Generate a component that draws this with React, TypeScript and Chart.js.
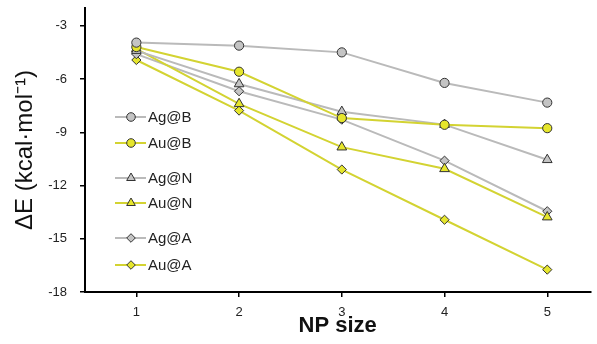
import React, { useEffect, useRef } from "react";
import { Chart, registerables } from "chart.js";

Chart.register(...registerables);

const npSizes = [1, 2, 3, 4, 5];
const agB = [-3.95, -4.12, -4.5, -6.22, -7.33];
const auB = [-4.2, -5.59, -8.2, -8.58, -8.77];
const agN = [-4.4, -6.28, -7.84, -8.57, -10.55];
const auN = [-4.3, -7.4, -9.84, -11.06, -13.78];
const agA = [-4.6, -6.69, -8.29, -10.6, -13.45];
const auA = [-4.93, -7.78, -11.1, -13.93, -16.74];
const yTickValues = [-3, -6, -9, -12, -15, -18];
const seriesNames = ["Ag@B", "Au@B", "Ag@N", "Au@N", "Ag@A", "Au@A"];

const GRAY_LINE = "#bababa";
const YEL_LINE = "#d3d332";
const GRAY_FILL = "#c4c4c4";
const YEL_FILL = "#e6e62c";
const EDGE = "#333333";

type Style = "circle" | "triangle" | "diamond";

function drawMarker(ctx: CanvasRenderingContext2D, style: Style, x: number, y: number, r: number, fill: string) {
  ctx.save();
  ctx.beginPath();
  if (style === "circle") {
    ctx.arc(x, y, r, 0, Math.PI * 2);
  } else if (style === "triangle") {
    let rad = 0;
    ctx.moveTo(x + Math.sin(rad) * r, y - Math.cos(rad) * r);
    rad += (2 * Math.PI) / 3;
    ctx.lineTo(x + Math.sin(rad) * r, y - Math.cos(rad) * r);
    rad += (2 * Math.PI) / 3;
    ctx.lineTo(x + Math.sin(rad) * r, y - Math.cos(rad) * r);
    ctx.closePath();
  } else {
    ctx.moveTo(x, y - r);
    ctx.lineTo(x + r, y);
    ctx.lineTo(x, y + r);
    ctx.lineTo(x - r, y);
    ctx.closePath();
  }
  ctx.fillStyle = fill;
  ctx.fill();
  ctx.lineWidth = 1;
  ctx.strokeStyle = EDGE;
  ctx.stroke();
  ctx.restore();
}

const legendRows = [117, 143, 178, 203, 238, 265];

const legendPlugin = {
  id: "customLegend",
  afterDraw(chart: any) {
    const ctx = chart.ctx as CanvasRenderingContext2D;
    chart.data.datasets.forEach((ds: any, i: number) => {
      const y = legendRows[i];
      ctx.save();
      ctx.strokeStyle = ds.borderColor;
      ctx.lineWidth = 2;
      ctx.beginPath();
      ctx.moveTo(115, y);
      ctx.lineTo(146, y);
      ctx.stroke();
      ctx.restore();
      const st: Style = ds.pointStyle === "circle" ? "circle" : ds.pointStyle === "triangle" ? "triangle" : "diamond";
      drawMarker(ctx, st, 131, y, st === "circle" ? 4.3 : st === "triangle" ? 5 : 4.3, ds.pointBackgroundColor);
      ctx.save();
      ctx.fillStyle = "#222";
      ctx.font = "15px 'Liberation Sans', Arial, sans-serif";
      ctx.textBaseline = "middle";
      ctx.textAlign = "left";
      ctx.fillText(ds.label, 148, y + 1);
      ctx.restore();
    });
  },
};

export default function App() {
  const ref = useRef<HTMLCanvasElement | null>(null);
  useEffect(() => {
    document.body.style.margin = "0";
    const mk = (label: string, data: number[], ag: boolean, ps: string) => ({
      label,
      data: npSizes.map((x, i) => ({ x, y: data[i] })),
      borderColor: ag ? GRAY_LINE : YEL_LINE,
      backgroundColor: ag ? GRAY_FILL : YEL_FILL,
      pointBackgroundColor: ag ? GRAY_FILL : YEL_FILL,
      pointBorderColor: EDGE,
      pointBorderWidth: 1,
      pointRadius: ps === "rectRot" ? 4.6 : ps === "triangle" ? 5.6 : 4.6,
      pointStyle: ps,
      borderWidth: 2,
      tension: 0,
    });
    const chart = new Chart(ref.current!, {
      type: "line",
      data: {
        datasets: [
          mk(seriesNames[0], agB, true, "circle"),
          mk(seriesNames[1], auB, false, "circle"),
          mk(seriesNames[2], agN, true, "triangle"),
          mk(seriesNames[3], auN, false, "triangle"),
          mk(seriesNames[4], agA, true, "rectRot"),
          mk(seriesNames[5], auA, false, "rectRot"),
        ] as any,
      },
      options: {
        animation: false,
        responsive: false,
        layout: { padding: { top: 8, right: 0, left: 0, bottom: 0 } },
        plugins: { legend: { display: false }, tooltip: { enabled: false } },
        scales: {
          x: {
            type: "linear",
            min: 0.5,
            max: 5.42,
            afterBuildTicks: (s: any) => {
              s.ticks = npSizes.map((v) => ({ value: v }));
            },
            afterFit: (s: any) => {
              s.height = 52;
              s.paddingLeft = 0;
              s.paddingRight = 0;
            },
            border: { display: true, color: "#000", width: 2 },
            grid: { drawOnChartArea: false, drawTicks: true, tickLength: 5, color: "#000", lineWidth: 1.5 },
            ticks: { color: "#222", font: { size: 13, family: "'Liberation Sans', Arial, sans-serif" }, padding: 8, maxRotation: 0 },
            title: {
              display: true,
              text: "NP size",
              color: "#111",
              font: { size: 22, weight: "bold", family: "'Liberation Sans', Arial, sans-serif" },
              padding: { top: 0, bottom: 5 },
            },
          },
          y: {
            type: "linear",
            min: -18,
            max: -2,
            afterBuildTicks: (s: any) => {
              s.ticks = yTickValues.map((v) => ({ value: v }));
            },
            afterFit: (s: any) => {
              s.width = 85;
              s.paddingTop = 0;
              s.paddingBottom = 0;
            },
            border: { display: true, color: "#000", width: 2 },
            grid: { drawOnChartArea: false, drawTicks: true, tickLength: 5, color: "#000", lineWidth: 1.5 },
            ticks: { color: "#222", font: { size: 13, family: "'Liberation Sans', Arial, sans-serif" }, padding: 13 },
            title: {
              display: true,
              text: "ΔE (kcal·mol⁻¹)",
              color: "#111",
              font: { size: 24, weight: "normal", family: "'Liberation Sans', Arial, sans-serif" },
              padding: { top: 11, bottom: 0 },
            },
          },
        },
      } as any,
      plugins: [legendPlugin],
    });
    return () => chart.destroy();
  }, []);
  return (
    <div style={{ position: "absolute", left: 0, top: 0, width: 597, height: 344 }}>
      <canvas ref={ref} width={597} height={344} />
    </div>
  );
}
